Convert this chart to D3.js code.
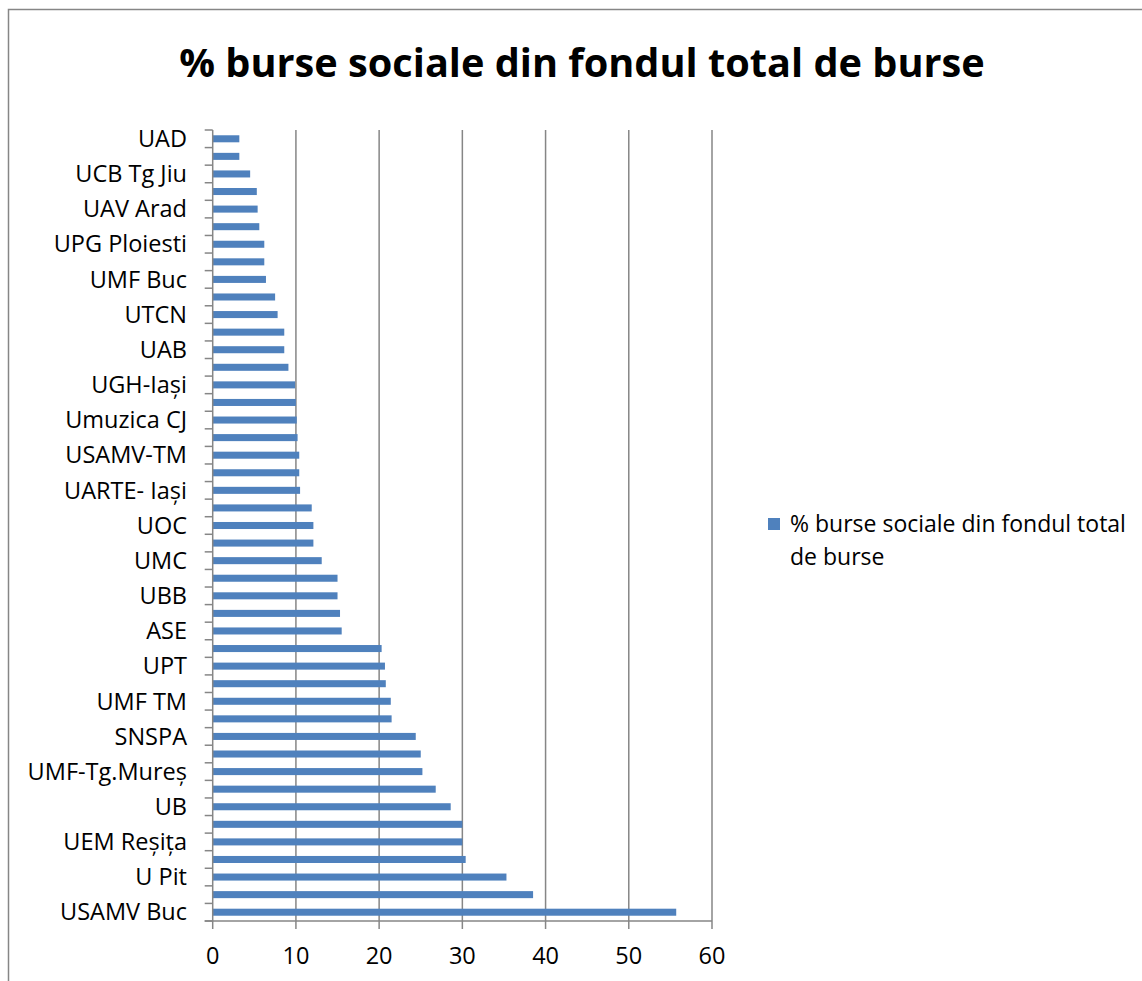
<!DOCTYPE html>
<html>
<head>
<meta charset="utf-8">
<script src="https://cdn.jsdelivr.net/npm/d3@7"></script>
<style>
  body { margin: 0; background: #fff; }
  svg { display: block; }
  text { font-family: "Open Sans", sans-serif; fill: #000; }
</style>
</head>
<body>
<div class="viz"></div>
<script>
const width = 1142;
const height = 981;

// categories top to bottom, only every other one is labelled in the chart
const universities = [
  "UAD", "", "UCB Tg Jiu", "", "UAV Arad", "", "UPG Ploiesti", "", "UMF Buc", "",
  "UTCN", "", "UAB", "", "UGH-Iași", "", "Umuzica CJ", "", "USAMV-TM", "",
  "UARTE- Iași", "", "UOC", "", "UMC", "", "UBB", "", "ASE", "",
  "UPT", "", "UMF TM", "", "SNSPA", "", "UMF-Tg.Mureș", "", "UB", "",
  "UEM Reșița", "", "U Pit", "", "USAMV Buc"
];

const bursePct = [
  3.2, 3.2, 4.5, 5.3, 5.4, 5.6, 6.2, 6.2, 6.4, 7.5,
  7.8, 8.6, 8.6, 9.1, 9.9, 10.0, 10.1, 10.2, 10.4, 10.4,
  10.5, 11.9, 12.1, 12.1, 13.1, 15.0, 15.0, 15.3, 15.5, 20.3,
  20.7, 20.8, 21.4, 21.5, 24.4, 25.0, 25.2, 26.8, 28.6, 30.0,
  30.0, 30.4, 35.3, 38.5, 55.7
];

const xTicks = [0, 10, 20, 30, 40, 50, 60];
const title = "% burse sociale din fondul total de burse";
const legendLines = ["% burse sociale din fondul total", "de burse"];

const data = universities.map((name, i) => ({ i, name, value: bursePct[i] }));

const plot = { left: 212.7, right: 712, top: 130, bottom: 921 };
const gridColor = "#868686";
const barColor = "#4f81bd";
const labelSize = "23.5px";

const svg = d3.select(".viz")
  .append("svg")
  .attr("width", width)
  .attr("height", height);

svg.append("rect")
  .attr("width", width).attr("height", height)
  .attr("fill", "#fff");

// outer chart frame (runs off the right and bottom edges)
svg.append("rect")
  .attr("x", 8.5).attr("y", 9.5)
  .attr("width", 1200).attr("height", 1100)
  .attr("fill", "none")
  .attr("stroke", gridColor)
  .attr("stroke-width", 1.5);

svg.append("text")
  .attr("x", 582).attr("y", 77)
  .attr("text-anchor", "middle")
  .style("font-size", "39.7px")
  .style("font-weight", "bold")
  .text(title);

const xScale = d3.scaleLinear()
  .domain([0, 60])
  .range([plot.left, plot.right]);

const yScale = d3.scaleBand()
  .domain(data.map(d => d.i))
  .range([plot.top, plot.bottom])
  .paddingInner(0.6)
  .paddingOuter(0.3);

// vertical gridlines
svg.append("g")
  .selectAll("line")
  .data(xTicks.filter(t => t > 0))
  .join("line")
  .attr("x1", d => xScale(d)).attr("x2", d => xScale(d))
  .attr("y1", plot.top).attr("y2", plot.bottom)
  .attr("stroke", gridColor)
  .attr("stroke-width", 1.5);

// bars
svg.append("g")
  .selectAll("rect")
  .data(data)
  .join("rect")
  .attr("x", xScale(0))
  .attr("y", d => yScale(d.i))
  .attr("height", yScale.bandwidth())
  .attr("width", d => xScale(d.value) - xScale(0))
  .attr("fill", barColor);

// y axis: line, ticks between categories, labels
const step = (plot.bottom - plot.top) / data.length;
const yAxis = svg.append("g");
yAxis.append("line")
  .attr("x1", plot.left).attr("x2", plot.left)
  .attr("y1", plot.top).attr("y2", plot.bottom)
  .attr("stroke", gridColor).attr("stroke-width", 1.5);
yAxis.selectAll("line.tick")
  .data(d3.range(data.length + 1))
  .join("line")
  .attr("class", "tick")
  .attr("x1", plot.left - 8).attr("x2", plot.left)
  .attr("y1", d => plot.top + d * step).attr("y2", d => plot.top + d * step)
  .attr("stroke", gridColor).attr("stroke-width", 1.5);
yAxis.selectAll("text")
  .data(data.filter(d => d.name))
  .join("text")
  .attr("x", 187)
  .attr("y", d => yScale(d.i) + yScale.bandwidth() / 2)
  .attr("dy", "0.35em")
  .attr("text-anchor", "end")
  .style("font-size", labelSize)
  .text(d => d.name);

// x axis
const xAxis = svg.append("g");
xAxis.append("line")
  .attr("x1", plot.left - 8).attr("x2", plot.right)
  .attr("y1", plot.bottom).attr("y2", plot.bottom)
  .attr("stroke", gridColor).attr("stroke-width", 1.5);
xAxis.selectAll("line.tick")
  .data(xTicks)
  .join("line")
  .attr("class", "tick")
  .attr("x1", d => xScale(d)).attr("x2", d => xScale(d))
  .attr("y1", plot.bottom).attr("y2", plot.bottom + 8)
  .attr("stroke", gridColor).attr("stroke-width", 1.5);
xAxis.selectAll("text")
  .data(xTicks)
  .join("text")
  .attr("x", d => xScale(d))
  .attr("y", 964)
  .attr("text-anchor", "middle")
  .style("font-size", labelSize)
  .text(d => d);

// legend
const legend = svg.append("g");
legend.append("rect")
  .attr("x", 768).attr("y", 518)
  .attr("width", 12).attr("height", 12)
  .attr("fill", barColor);
legend.selectAll("text")
  .data(legendLines)
  .join("text")
  .attr("x", 790)
  .attr("y", (d, i) => 532 + i * 33)
  .style("font-size", "23px")
  .text(d => d);
</script>
</body>
</html>
